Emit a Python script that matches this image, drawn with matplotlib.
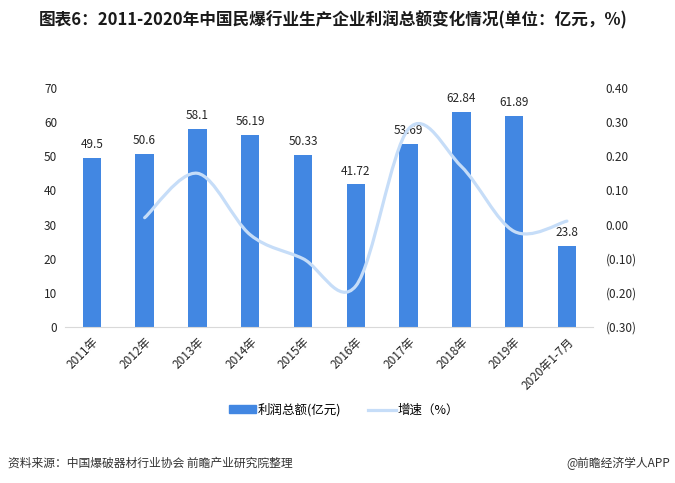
import matplotlib
matplotlib.use("Agg")
import matplotlib.pyplot as plt
from matplotlib.path import Path
from matplotlib.patches import PathPatch
from matplotlib.lines import Line2D
from matplotlib.patches import Patch
from matplotlib.ticker import FuncFormatter

plt.rcParams['font.family'] = ['Noto Sans CJK SC', 'DejaVu Sans']

# 数据
years = ["2011年", "2012年", "2013年", "2014年", "2015年", "2016年",
         "2017年", "2018年", "2019年", "2020年1-7月"]
profit = [49.5, 50.6, 58.1, 56.19, 50.33, 41.72, 53.69, 62.84, 61.89, 23.8]
profit_labels = ["49.5", "50.6", "58.1", "56.19", "50.33", "41.72",
                 "53.69", "62.84", "61.89", "23.8"]
# 增速, 2011年无数据
growth = [None, 0.02, 0.15, -0.03, -0.10, -0.18, 0.28, 0.17, -0.02, 0.01]

bar_color = "#4287e2"
line_color = "#c6ddf8"
text_color = "#262626"

fig = plt.figure(figsize=(6.75, 4.83), dpi=100)
ax = fig.add_axes([0.097, 0.323, 0.782, 0.495])
ax2 = ax.twinx()

x = list(range(len(years)))
ax.bar(x, profit, width=0.35, color=bar_color, zorder=2)
for xi, v, lab in zip(x, profit, profit_labels):
    ax.annotate(lab, (xi, v), xytext=(0, 5), textcoords="offset points",
                ha="center", va="bottom", fontsize=8.5, color=text_color)

ax.set_xlim(-0.5, len(years) - 0.5)
ax.set_ylim(0, 70)
ax.set_yticks(range(0, 71, 10))
ax.set_xticks(x)
ax.set_xticklabels(years, rotation=45, ha="right", rotation_mode="anchor",
                   fontsize=8.5, color=text_color)

for s in ["top", "right", "left"]:
    ax.spines[s].set_visible(False)
    ax2.spines[s].set_visible(False)
ax2.spines["bottom"].set_visible(False)
ax.spines["bottom"].set_color("#d9d9d9")
ax.tick_params(axis="both", length=0, labelsize=8.5, colors=text_color)
ax.tick_params(axis="y", pad=6)
ax.tick_params(axis="x", pad=6)

# 平滑曲线 (类似Excel的平滑线)
pts = [(xi, g) for xi, g in zip(x, growth) if g is not None]
verts = [pts[0]]
codes = [Path.MOVETO]
n = len(pts)
for i in range(n - 1):
    p0 = pts[max(i - 1, 0)]
    p1 = pts[i]
    p2 = pts[i + 1]
    p3 = pts[min(i + 2, n - 1)]
    c1 = (p1[0] + (p2[0] - p0[0]) / 6, p1[1] + (p2[1] - p0[1]) / 6)
    c2 = (p2[0] - (p3[0] - p1[0]) / 6, p2[1] - (p3[1] - p1[1]) / 6)
    verts += [c1, c2, p2]
    codes += [Path.CURVE4, Path.CURVE4, Path.CURVE4]
curve = PathPatch(Path(verts, codes), facecolor="none", edgecolor=line_color,
                  lw=2.3, capstyle="round", zorder=3)
ax2.add_patch(curve)
ax.set_zorder(ax2.get_zorder() - 1)
ax2.patch.set_visible(False)

ax2.set_ylim(-0.3, 0.4)
ax2.set_yticks([-0.3, -0.2, -0.1, 0.0, 0.1, 0.2, 0.3, 0.4])
ax2.yaxis.set_major_formatter(FuncFormatter(
    lambda v, p: "(%.2f)" % abs(v) if v < -1e-9 else "%.2f" % abs(v)))
ax2.tick_params(axis="y", length=0, labelsize=8.5, colors=text_color, pad=9)

# 图例
handles = [Patch(color=bar_color),
           Line2D([0], [0], color=line_color, lw=2.3)]
fig.legend(handles, ["利润总额(亿元)", "增速（%）"], loc="center",
           bbox_to_anchor=(0.509, 0.151), ncol=2, frameon=False, fontsize=9,
           handlelength=2.2, handleheight=0.6, columnspacing=2.2,
           handletextpad=0.1)

fig.text(0.493, 0.958, "图表6：2011-2020年中国民爆行业生产企业利润总额变化情况(单位：亿元，%)",
         ha="center", va="center", fontsize=12, fontweight="bold", color="#1a1a1a")
fig.text(0.012, 0.041, "资料来源：中国爆破器材行业协会 前瞻产业研究院整理",
         ha="left", va="center", fontsize=8.5, color="#333333")
fig.text(0.993, 0.041, "@前瞻经济学人APP", ha="right", va="center",
         fontsize=8.5, color="#333333")

fig.savefig("out.png", dpi=100)
